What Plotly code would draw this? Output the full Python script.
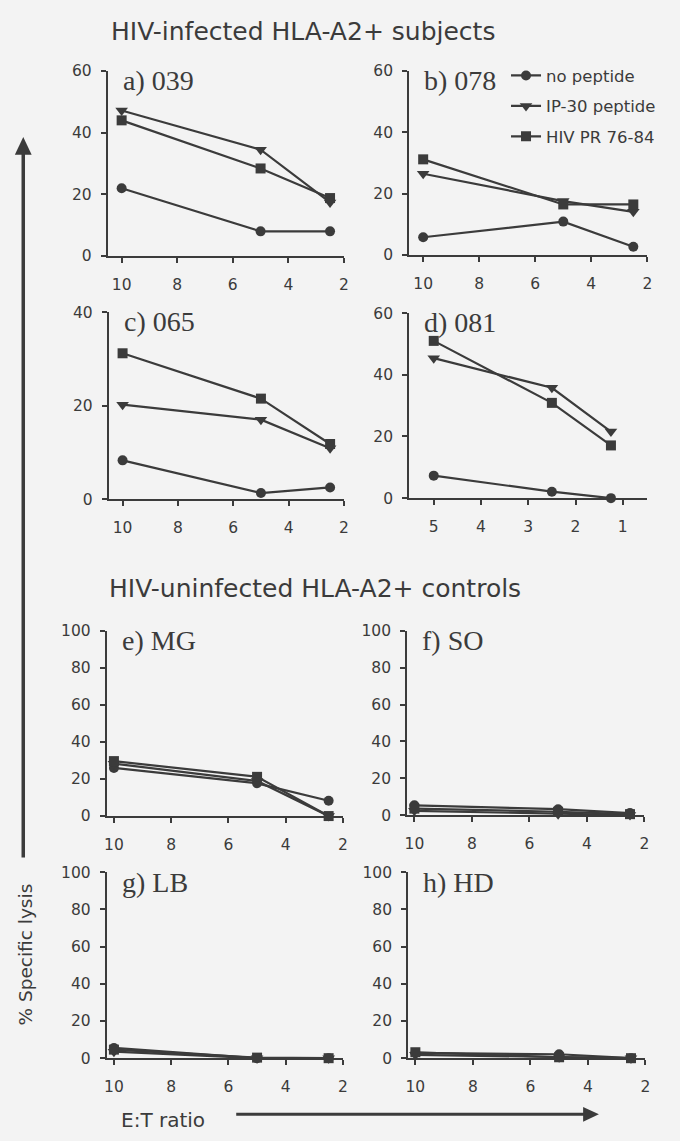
import plotly.graph_objects as go

# Canvas size in pixels
W, H = 680, 1141

# E:T ratios tested
et_standard = [10, 5, 2.5]
et_081 = [5, 2.5, 1.25]

series_names = ["no peptide", "IP-30 peptide", "HIV PR 76-84"]
series_symbols = ["circle", "triangle-down", "square"]

# % specific lysis per subject: [no peptide, IP-30 peptide, HIV PR 76-84]
lysis_039 = [[22, 8, 8], [47.2, 34.5, 17.4], [44, 28.4, 18.8]]
lysis_078 = [[5.8, 10.9, 2.7], [26.5, 17.6, 14.1], [31.2, 16.5, 16.5]]
lysis_065 = [[8.3, 1.3, 2.5], [20.2, 17.0, 10.9], [31.2, 21.5, 11.8]]
lysis_081 = [[7.3, 2.1, 0], [45.4, 35.8, 21.6], [51, 30.9, 17.1]]
lysis_MG = [[26, 17.7, 8.3], [28.3, 19.0, 0], [29.7, 21.2, 0]]
lysis_SO = [[5.3, 3.2, 1.1], [2.3, 0.5, 0], [3.5, 1.8, 0.5]]
lysis_LB = [[5.5, 0, 0], [3.5, 0, 0], [4.6, 0.3, 0]]
lysis_HD = [[2.8, 2.1, 0], [1.8, 0.5, 0], [3.2, 0.5, 0]]

ticks_et10 = [10, 8, 6, 4, 2]
ticks_et5 = [5, 4, 3, 2, 1]
ticks_60 = [0, 20, 40, 60]
ticks_40 = [0, 20, 40]
ticks_100 = [0, 20, 40, 60, 80, 100]

BG = "#f3f3f3"
INK = "#3b3b3b"
SANS = "DejaVu Sans"
SERIF = "Liberation Serif"

# label, x values, data, pixel box (left, right, top, bottom), x range, y range, x ticks, y ticks
panels = [
    ("a) 039", et_standard, lysis_039, (106, 345, 63, 251), [10.5, 2], [0, 60], ticks_et10, ticks_60),
    ("b) 078", et_standard, lysis_078, (411, 652, 63, 250), [10.5, 2], [0, 60], ticks_et10, ticks_60),
    ("c) 065", et_standard, lysis_065, (107, 345, 308, 498), [10.5, 2], [0, 40], ticks_et10, ticks_40),
    ("d) 081", et_081, lysis_081, (411, 652, 309, 497), [5.52, 0.48], [0, 60], ticks_et5, ticks_60),
    ("e) MG", et_standard, lysis_MG, (105, 344, 632, 820), [10.25, 2], [0, 100], ticks_et10, ticks_100),
    ("f) SO", et_standard, lysis_SO, (409, 649, 632, 819), [10.25, 2], [0, 100], ticks_et10, ticks_100),
    ("g) LB", et_standard, lysis_LB, (105, 344, 877, 1066), [10.25, 2], [0, 100], ticks_et10, ticks_100),
    ("h) HD", et_standard, lysis_HD, (410, 650, 877, 1066), [10.25, 2], [0, 100], ticks_et10, ticks_100),
]

fig = go.Figure()
layout = {}
annotations = []

for i, (label, xs, data, box, xr, yr, xt, yt) in enumerate(panels):
    n = "" if i == 0 else str(i + 1)
    left, right, top, bottom = box
    xa, ya = "xaxis" + n, "yaxis" + n
    layout[xa] = dict(
        domain=[left / W, right / W], range=xr, anchor="y" + n,
        tickvals=xt, ticks="outside", ticklen=5, tickwidth=1.5, tickcolor=INK,
        showline=True, linecolor=INK, linewidth=2, showgrid=False, zeroline=False,
        tickfont=dict(family=SANS, size=15.5, color=INK), ticklabelstandoff=8,
    )
    layout[ya] = dict(
        domain=[1 - bottom / H, 1 - top / H], range=yr, anchor="x" + n,
        tickvals=yt, ticks="outside", ticklen=5, tickwidth=1.5, tickcolor=INK,
        showline=True, linecolor=INK, linewidth=2, showgrid=False, zeroline=False,
        tickfont=dict(family=SANS, size=15.5, color=INK), ticklabelstandoff=6,
    )
    for k in range(3):
        fig.add_trace(go.Scatter(
            x=xs, y=data[k], mode="lines+markers", name=series_names[k],
            xaxis="x" + n, yaxis="y" + n, cliponaxis=False,
            line=dict(color=INK, width=2.2),
            marker=dict(symbol=series_symbols[k], size=10 if k != 1 else 11, color=INK),
            showlegend=(i == 0), legendgroup=series_names[k],
        ))
    annotations.append(dict(
        text=label, xref="paper", yref="paper", x=(left + 13) / W, y=1 - (top + 10) / H,
        xanchor="left", yanchor="middle", showarrow=False,
        font=dict(family=SERIF, size=28, color=INK),
    ))

# Group headings
annotations.append(dict(
    text="HIV-infected HLA-A2+ subjects", xref="paper", yref="paper",
    x=107 / W, y=1 - 23 / H, xanchor="left", yanchor="middle", showarrow=False,
    font=dict(family=SANS, size=25, color=INK),
))
annotations.append(dict(
    text="HIV-uninfected HLA-A2+ controls", xref="paper", yref="paper",
    x=105 / W, y=1 - 589 / H, xanchor="left", yanchor="middle", showarrow=False,
    font=dict(family=SANS, size=25, color=INK),
))
# Shared axis titles
annotations.append(dict(
    text="% Specific lysis", xref="paper", yref="paper",
    x=23 / W, y=1 - 961 / H, xanchor="center", yanchor="middle", textangle=-90,
    showarrow=False, font=dict(family=SANS, size=18.5, color=INK),
))
annotations.append(dict(
    text="E:T ratio", xref="paper", yref="paper",
    x=117 / W, y=1 - 1129 / H, xanchor="left", yanchor="middle",
    showarrow=False, font=dict(family=SANS, size=20, color=INK),
))

def px(x):
    return x / W

def py(y):
    return 1 - y / H

# Direction arrows for the shared axes
shapes = [
    dict(type="line", xref="paper", yref="paper", x0=px(20.5), x1=px(20.5),
         y0=py(862), y1=py(145), line=dict(color=INK, width=3.5)),
    dict(type="path", xref="paper", yref="paper", fillcolor=INK, line=dict(width=0),
         path=f"M {px(12)} {py(148)} L {px(20.5)} {py(130)} L {px(29)} {py(148)} Z"),
    dict(type="line", xref="paper", yref="paper", x0=px(236), x1=px(590),
         y0=py(1123), y1=py(1123), line=dict(color=INK, width=3)),
    dict(type="path", xref="paper", yref="paper", fillcolor=INK, line=dict(width=0),
         path=f"M {px(587)} {py(1115.5)} L {px(603)} {py(1123)} L {px(587)} {py(1130.5)} Z"),
]

fig.update_layout(
    width=W, height=H, margin=dict(l=0, r=0, t=0, b=0),
    paper_bgcolor=BG, plot_bgcolor=BG,
    annotations=annotations, shapes=shapes,
    legend=dict(
        x=px(509), y=py(50), xanchor="left", yanchor="top",
        bgcolor="rgba(0,0,0,0)", font=dict(family=SANS, size=16.5, color=INK),
        tracegroupgap=6, itemwidth=30,
    ),
    **layout,
)

fig.write_html("out.html")
